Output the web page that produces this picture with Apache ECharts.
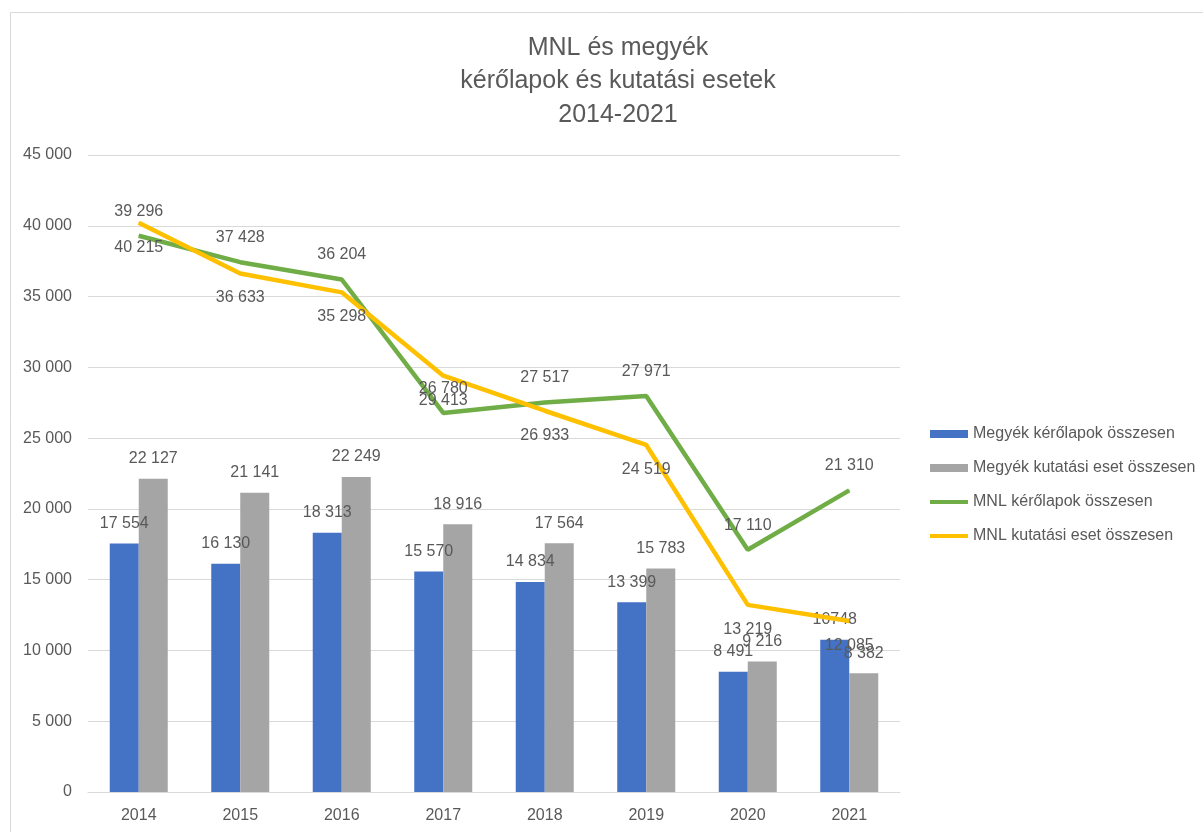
<!DOCTYPE html>
<html lang="hu">
<head>
    <meta charset="UTF-8">
    <title>MNL és megyék</title>
    <script src="https://cdn.jsdelivr.net/npm/echarts@6/dist/echarts.min.js"></script>
    <style>
        html, body { margin: 0; padding: 0; background: #fff; }
        #main { width: 1203px; height: 832px; }
    </style>
</head>
<body>
<div id="main"></div>
<script type="text/javascript">
    // adatok
    var years = ['2014', '2015', '2016', '2017', '2018', '2019', '2020', '2021'];
    var megyeKerolap = [17554, 16130, 18313, 15570, 14834, 13399, 8491, 10748];
    var megyeKutatas = [22127, 21141, 22249, 18916, 17564, 15783, 9216, 8382];
    var mnlKerolap = [39296, 37428, 36204, 26780, 27517, 27971, 17110, 21310];
    var mnlKutatas = [40215, 36633, 35298, 29413, 26933, 24519, 13219, 12085];
    var seriesNames = ['Megyék kérőlapok összesen', 'Megyék kutatási eset összesen',
        'MNL kérőlapok összesen', 'MNL kutatási eset összesen'];

    var txt = '#595959';
    var font = 'Liberation Sans';
    // vonal ikon a jelmagyarázathoz (a láthatatlan pontok tartják a 38x8-as dobozt)
    var lineIcon = 'path://M0,0L0.01,0M0,2L40,2L40,6L0,6ZM39.99,8L40,8';

    // ezres tagolás szóközzel
    function fmt(v) {
        return String(v).replace(/\B(?=(\d{3})+(?!\d))/g, ' ');
    }

    // a 2021-es kék címke az eredetiben tagolás nélkül szerepel
    var blueData = megyeKerolap.map(function (v, i) {
        if (i === 7) return { value: v, label: { formatter: String(v) } };
        return v;
    });

    function lbl(pos, dist) {
        return {
            show: true, position: pos, distance: dist,
            color: txt, fontSize: 16, fontFamily: font,
            formatter: function (p) { return fmt(p.value); }
        };
    }

    var myChart = echarts.init(document.getElementById('main'));

    var option = {
        backgroundColor: '#fff',
        textStyle: { fontFamily: font },
        title: {
            text: 'MNL és megyék\nkérőlapok és kutatási esetek\n2014-2021',
            left: 613,
            textAlign: 'center',
            top: 26,
            textStyle: {
                color: txt,
                fontSize: 25,
                fontWeight: 'normal',
                lineHeight: 33.5,
                fontFamily: font
            }
        },
        graphic: [{
            type: 'rect',
            shape: { x: 10.5, y: 12.5, width: 1200, height: 830 },
            style: { fill: 'none', stroke: '#d9d9d9', lineWidth: 1 },
            silent: true
        }],
        legend: {
            orient: 'vertical',
            left: 925,
            top: 421,
            itemWidth: 38,
            itemHeight: 8,
            itemGap: 18,
            textStyle: { color: txt, fontSize: 16, fontFamily: font },
            data: [
                { name: seriesNames[0], icon: 'rect' },
                { name: seriesNames[1], icon: 'rect' },
                { name: seriesNames[2], icon: lineIcon },
                { name: seriesNames[3], icon: lineIcon }
            ]
        },
        grid: {
            left: 88,
            right: 303,
            top: 155,
            bottom: 40
        },
        xAxis: {
            type: 'category',
            data: years,
            axisLine: { lineStyle: { color: '#d9d9d9', width: 1 } },
            axisTick: { show: false },
            axisLabel: { color: txt, fontSize: 16, margin: 16, fontFamily: font }
        },
        yAxis: {
            type: 'value',
            min: 0,
            max: 45000,
            interval: 5000,
            axisLine: { show: false },
            axisTick: { show: false },
            splitLine: { lineStyle: { color: '#d9d9d9', width: 1 } },
            axisLabel: { color: txt, fontSize: 16, margin: 16, fontFamily: font, formatter: fmt }
        },
        series: [
            {
                name: seriesNames[0],
                type: 'bar',
                data: blueData,
                barWidth: 29,
                barGap: '0%',
                itemStyle: { color: '#4472C4' },
                label: lbl('top', 12)
            },
            {
                name: seriesNames[1],
                type: 'bar',
                data: megyeKutatas,
                barWidth: 29,
                barGap: '0%',
                itemStyle: { color: '#A5A5A5' },
                label: lbl('top', 12)
            },
            {
                name: seriesNames[2],
                type: 'line',
                data: mnlKerolap,
                symbol: 'circle',
                symbolSize: 1,
                itemStyle: { color: '#70AD47' },
                lineStyle: { color: '#70AD47', width: 4.5 },
                label: lbl('top', 16)
            },
            {
                name: seriesNames[3],
                type: 'line',
                data: mnlKutatas,
                symbol: 'circle',
                symbolSize: 1,
                itemStyle: { color: '#FFC000' },
                lineStyle: { color: '#FFC000', width: 4.5 },
                label: lbl('bottom', 16)
            }
        ]
    };

    myChart.setOption(option);
</script>
</body>
</html>
